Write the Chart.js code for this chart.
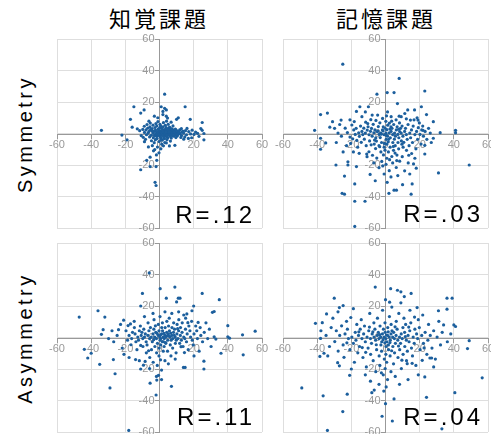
<!DOCTYPE html>
<html>
<head>
<meta charset="utf-8">
<script src="https://cdn.jsdelivr.net/npm/chart.js@4/dist/chart.umd.min.js"></script>
<style>
  html, body { margin:0; padding:0; background:#fff; width:491px; height:434px; overflow:hidden; }
  canvas { position:absolute; }
  .title { position:absolute; top:4px; width:140px; text-align:center; font: 22px "Noto Sans CJK JP", sans-serif; letter-spacing:3px; line-height:26px; color:#000; }
  .row { position:absolute; width:160px; text-align:center; font: 20px "Liberation Sans", Arial, sans-serif; letter-spacing:3.5px; line-height:20px; color:#000; transform: translate(-50%,-50%) rotate(-90deg); }
  .r { position:absolute; font: 24px "Liberation Sans", Arial, sans-serif; letter-spacing:3px; line-height:24px; color:#000; white-space:nowrap; }
</style>
</head>
<body>
<div class="title" style="left:89px">知覚課題</div>
<div class="title" style="left:316px">記憶課題</div>
<div class="row" style="left:25px; top:134px">Symmetry</div>
<div class="row" style="left:25px; top:338px">Asymmetry</div>

<canvas id="p1" width="233" height="217" style="left:43px; top:25px"></canvas>
<canvas id="p2" width="233" height="217" style="left:269px; top:25px"></canvas>
<canvas id="p3" width="233" height="217" style="left:43px; top:229px"></canvas>
<canvas id="p4" width="233" height="217" style="left:269px; top:229px"></canvas>

<div class="r" style="right:236px; top:203px">R=.12</div>
<div class="r" style="right:8px; top:202px">R=.03</div>
<div class="r" style="right:236px; top:405px">R=.11</div>
<div class="r" style="right:8px; top:405px">R=.04</div>

<script>
const axisTicks = [-60, -40, -20, 0, 20, 40, 60];

// 知覚課題 / Symmetry
const perceptSym = [
  [-34,2],[-22,-1],[-19,-4],[-17,9],[-15,17],[-11,13],[-9,15],[-16,4],[-13,3],[3,25],
  [1,17],[3,16],[4,15],[2,14],[15,17],[11,10],[10,9],[18,9],[25,7],[25,2],[26,0],[26,-4],
  [-11,-23],[-5.5,-21],[-2,-21],[-2.6,-31],[-2,-33],[-7.5,-17],[-5.5,-15],[-1.6,-17],[4,-6],[9,-7.5],
  [-3.5,-11],[-6.5,-8.5],[-3,11],[2,12],[-1,10],[4,11],
  [-11.6,1.8],[-10.7,-1.3],[-9.8,2.6],[-9.5,-2.4],[-8.8,0.7],[-8.9,4.6],[-7.6,-0.8],[-7.9,2.3],[-8.2,-3.7],
  [-6.7,0.3],[-6.9,3.4],[-7.3,5.7],[-5.8,-2.2],[-6.1,1.4],[-5.6,4.2],[-4.8,-1.1],[-5.2,2.5],[-4.7,-4.6],
  [-5.4,6.6],[-3.9,0.4],[-4.3,3.1],[-3.6,-2.7],[-3.8,5.3],[-2.7,-0.7],[-3.2,1.3],[-2.6,3.8],[-3.1,-5.8],
  [-1.8,0.2],[-2.3,2.2],[-1.7,-1.8],[-2.1,6.3],[-2.4,-3.9],[-0.8,-1.2],[-1.2,0.9],[-0.7,2.8],[-1.4,-3.2],
  [-0.9,7.6],[0.2,-0.3],[-0.3,1.9],[0.4,-2.3],[0.1,3.7],[-0.2,-5.1],[0.3,5.8],[1.2,-0.9],[0.8,1.3],
  [1.4,3.2],[1.1,-2.8],[0.7,4.7],[1.3,-6.8],[2.2,0.3],[1.8,2.4],[2.4,-1.6],[2.1,4.3],[1.7,-4.2],[2.3,6.9],
  [3.2,-1.2],[2.8,1.1],[3.3,2.7],[2.9,-3.3],[3.4,5.2],[3.1,-5.7],[4.2,0.2],[3.8,2.2],[4.3,-2.1],[3.9,3.8],
  [4.4,-3.9],[4.1,7.8],[5.2,-0.8],[4.8,1.3],[5.3,3.3],[4.9,-2.7],[5.1,5.8],[6.2,-0.3],[5.8,2.1],[6.3,-1.8],
  [5.9,4.1],[6.4,-4.8],[7.2,-0.6],[6.8,1.2],[7.3,2.9],[6.9,-2.9],[8.1,0.4],[7.8,2.3],[8.3,-1.7],[7.9,4.8],
  [9.2,-0.9],[8.8,1.4],[9.3,2.8],[10.1,0.2],[9.8,2.2],[10.4,-1.6],[11.2,1.1],[10.8,-0.7],[12.1,-0.2],
  [11.8,2.3],[13.2,0.8],[12.9,-1.3],[14.1,0.3],[15.2,1.8],[15.8,-0.8],[17.1,1.2],[18.2,-0.3],[19.1,2.1],
  [20.2,-0.6],[21.1,0.9],[22.3,0.1],[14.2,-3.6],[16.1,3.2],[18.8,-2.7],[-1.2,-8.6],[0.8,-9.7],[-2.8,-10.2],
  [-0.3,-12.3],[-1.8,-13.6],[2.3,-7.8],[-4.2,-7.7],[5.8,-7.9],[4.7,9.8],[6.8,7.2],[-6.2,7.8],[-8.8,-5.2],
  [0.6,0.7],[1.6,-0.4],[2.6,1.6],[3.6,-1.4],[4.6,0.6],[5.6,-0.3],[6.6,1.7],[-0.6,1.4],[-1.4,-0.6],
  [-2.6,1.7],[3.1,0.1],[5.2,0.3],[7.1,0.2],[1.1,0.3],[-1.1,0.1],[9.1,0.3],[11.1,0.2],[2.1,1.2],[4.1,1.1],
  [6.1,0.9],[8.2,1.1],[3.3,-0.6],[5.1,2.1],[12.8,3.1],[14.8,-2.2],[16.9,-3.1],[24.2,3.1],[23.1,-1.8],
  [0.5,-1.2],[1.9,-1.1],[3.7,0.9],[5.7,1.1],[7.6,-1.2],[8.7,0.8],[10.6,1.3],[-0.4,-0.6],[2.7,-2.3],
  [4.5,-1.2],[6.5,3.1],[-2.9,-1.4],[-4.4,1.7],[1.3,2.1],[9.6,-2.6],[11.6,0.7],[13.6,1.6],[12.5,-2.5],
  [-1.6,4.8],[0.9,-4.1]
];

// 記憶課題 / Symmetry
const memorySym = [
  [-25,44],[8,35],[23,27],[1,26],[5,26],[-5,25],[7,19],[21,17],[13,15],[17,15],[-15,17],[-10,17],
  [-17,14],[-38,12],[-34,13],[-41.5,2],[-38,-3],[-31,7.5],[-26,8.5],[-32.6,4],[-38,-10],[-35,-6],
  [-29,-20],[-24,-27],[-25.4,-38],[-24,-38.5],[-18,-32],[-18,-43],[-12,-43],[-18,-59],[-22,-20],
  [-22,-18],[-17,-21],[-11,-13],[-9,-26],[-6,-30],[1,-31],[2,-38],[5,-36],[6.4,-36],[15,-38.5],
  [15.6,-32],[10,-32.5],[18,-22],[23,-13],[23,-7.5],[28,-3],[32,0.5],[41,2],[41,0.5],[49,-20],
  [31,-25],[28,7.5],[24,12],[19,8.5],[14.6,8.5],[18.5,10],[22,2],[8,11],
  [-23.6,3.4],[-22.3,0.6],[-20.8,-2.3],[-19.7,5.4],[-20.4,-6.3],[-18.6,2.3],[-17.7,-0.6],[-18.3,7.6],
  [-16.8,-4.4],[-17.2,3.3],[-15.7,0.4],[-16.3,-8.7],[-14.6,4.7],[-15.3,-1.8],[-13.8,1.3],[-14.2,-5.6],
  [-12.7,3.4],[-13.3,-0.7],[-11.6,7.2],[-12.4,-3.6],[-11.8,0.3],[-10.7,2.2],[-11.3,-7.7],[-9.6,-0.8],
  [-10.2,4.3],[-9.7,-11.6],[-8.8,1.4],[-9.3,-4.7],[-8.6,8.8],[-7.8,-1.7],[-8.2,3.2],[-7.6,-13.8],
  [-6.8,0.4],[-7.2,5.8],[-6.6,-6.7],[-5.7,-2.8],[-6.2,2.3],[-5.8,-9.6],[-4.8,1.2],[-5.3,-4.8],
  [-4.6,11.7],[-5.1,-15.6],[-3.7,-0.6],[-4.2,4.4],[-3.8,-7.7],[-2.8,0.3],[-3.3,6.8],[-2.7,-11.7],
  [-3.1,-2.6],[-1.8,2.3],[-2.3,-5.7],[-1.7,9.6],[-2.2,-17.7],[-0.7,-0.8],[-1.3,4.3],[-0.8,-8.7],
  [-1.2,-13.6],[0.3,0.2],[-0.2,3.3],[0.4,-3.7],[0.2,7.7],[-0.3,-10.6],[0.3,-19.6],[1.2,-1.7],[0.8,2.4],
  [1.3,5.3],[0.7,-6.8],[1.2,13.7],[0.8,-15.7],[2.2,0.4],[1.8,-3.7],[2.3,6.6],[1.7,-11.7],[2.2,-23.6],
  [3.3,1.3],[2.8,-2.7],[3.2,4.3],[2.7,-8.7],[3.3,10.7],[4.2,-0.7],[3.8,3.3],[4.3,-5.7],[3.7,-14.6],
  [4.2,-18.7],[5.3,0.3],[4.8,5.7],[5.2,-3.6],[4.7,-10.7],[6.3,2.3],[5.8,-1.7],[6.2,8.7],[5.7,-7.7],
  [6.3,-21.6],[7.2,-0.6],[6.8,4.3],[7.3,-5.7],[6.7,-13.7],[8.3,1.2],[7.8,-2.7],[8.2,6.7],[7.7,-9.7],
  [8.3,-17.6],[9.2,0.3],[8.8,3.3],[9.3,-4.7],[10.2,-1.7],[9.7,4.7],[10.3,-8.7],[9.8,-14.7],[11.2,1.3],
  [10.7,-5.6],[11.3,12.7],[12.2,-0.7],[11.7,3.3],[12.3,-10.7],[13.2,5.7],[12.7,-3.7],[13.3,-18.7],
  [14.2,0.3],[13.8,-7.7],[15.2,2.3],[14.7,-2.7],[15.3,-12.7],[16.2,4.7],[15.8,-5.7],[17.2,-0.7],
  [16.7,8.7],[18.2,1.3],[17.8,-9.7],[19.2,3.7],[18.8,-3.7],[20.2,-0.6],[19.8,6.7],[21.2,2.3],[20.8,-6.7],
  [22.2,-1.7],[21.8,4.7],[23.2,1.3],[24.2,-3.7],[25.2,3.3],[26.2,0.3],[26.8,-5.7],[-22.8,-7.7],
  [-20.8,8.7],[-18.8,-11.7],[-13.8,10.7],[-10.8,-14.7],[-6.8,-18.7],[-3.8,-21.7],[-0.8,-25.7],
  [3.2,-27.6],[7.2,-26.7],[11.2,-23.7],[14.2,-25.7],[17.2,-15.7],[-25.8,-1.7],[-27.8,0.3],[-29.8,3.3],
  [-26.8,5.7],[-24.8,-11.7],[-28.8,-5.7],[12.2,9.3],[9.2,10.7],[-7.8,11.7],[-11.8,13.7],
  [-1.4,1.6],[0.6,-1.4],[2.6,2.8],[-2.4,-0.4],[1.6,-5.3],[-3.4,-8.4],[4.6,-8.2],[-0.6,-6.3],[3.6,7.8],
  [-4.4,1.6],[5.6,-12.4],[-6.4,-4.2],[7.6,2.7],[-8.4,-7.2],[9.6,-6.8],[-10.4,6.3],[2.4,-16.6],
  [-1.6,-20.6],[0.6,11.2],[-5.6,8.3],[13.6,-13.8],[-15.4,-12.6],[16.4,-19.3],[-19.2,-3.4],[6.6,-17.2]
];

// 知覚課題 / Asymmetry
const perceptAsym = [
  [-47,13],[-36,17],[-32,13],[-33,5],[-34,2],[-44,-7.5],[-42,-13],[-40,-10],[-35,-17],[-27,-14],
  [-26,-23],[-29,-32],[-18,-59],[-2,-36.5],[7,-31],[-10,28],[-6,41],[0.4,31],[9,32],[4,25],[10,22.6],
  [11,25],[12,25],[25,28],[35,24],[31,16],[32,16.5],[40,7.5],[40,0.4],[41,-0.4],[48.6,1.7],[56,4],
  [49,-11],[36,-10],[33,-1],[32,0.4],[26,-15],[26,-20],[15,-19],[14,-19],[-5.5,-29],[-1.6,-27],
  [-0.6,-24],[-9.4,-17.6],[-11,-20],[-14,-14],[-21,11],[-17,8.6],[-11,20],[-24,5],[-11,-5],[20,20],
  [19,17],[16,15],
  [-19.6,4.3],[-18.7,-1.7],[-17.8,1.3],[-16.7,-4.6],[-15.8,3.3],[-16.3,-0.7],[-14.7,6.3],[-13.8,-2.7],
  [-14.3,2.3],[-12.7,0.3],[-13.2,-7.7],[-11.8,4.3],[-12.3,-1.7],[-10.7,1.3],[-11.2,7.3],[-9.8,-0.7],
  [-10.3,3.3],[-9.7,-5.7],[-8.8,0.3],[-9.2,5.3],[-7.8,-2.7],[-8.3,2.3],[-7.7,-9.7],[-6.8,1.3],[-7.3,-4.7],
  [-6.7,9.3],[-5.8,-0.7],[-6.2,4.3],[-5.7,-12.7],[-4.8,0.3],[-5.3,6.3],[-4.7,-7.7],[-3.8,2.3],[-4.2,-2.7],
  [-3.7,-15.7],[-2.8,0.3],[-3.3,5.3],[-2.7,-5.7],[-3.2,11.3],[-1.8,-0.7],[-2.2,3.3],[-1.7,-9.7],[-0.8,1.3],
  [-1.2,-3.7],[-0.7,8.3],[-1.3,-17.7],[0.2,0.3],[-0.3,4.3],[0.3,-1.7],[-0.2,-6.7],[0.3,13.3],[-0.3,-11.7],
  [1.2,2.3],[0.8,-0.7],[1.3,6.3],[0.7,-4.7],[1.2,-20.7],[2.2,0.3],[1.8,4.3],[2.3,-2.7],[1.7,9.3],
  [2.2,-8.7],[3.2,1.3],[2.8,-0.7],[3.3,6.3],[2.7,-5.7],[3.2,-14.7],[4.2,3.3],[3.8,0.3],[4.3,10.3],
  [3.7,-3.7],[5.2,2.3],[4.8,-1.7],[5.3,7.3],[4.7,-8.7],[6.2,0.3],[5.8,4.3],[6.3,-4.7],[5.7,12.3],
  [7.2,1.3],[6.8,-1.7],[7.3,6.3],[6.7,-11.7],[8.2,3.3],[7.8,-0.7],[8.3,9.3],[7.7,-6.7],[9.2,0.3],
  [8.8,5.3],[9.3,-3.7],[10.2,2.3],[9.8,-1.7],[10.3,8.3],[9.7,-9.7],[11.2,4.3],[10.8,-0.7],[11.3,11.3],
  [12.2,1.3],[11.8,-3.7],[12.3,6.3],[13.2,3.3],[12.8,-1.7],[13.3,9.3],[14.2,0.3],[13.8,-5.7],[15.2,5.3],
  [14.8,-0.7],[15.3,12.3],[16.2,2.3],[15.8,-2.7],[17.2,7.3],[16.8,-7.7],[18.2,0.3],[17.8,4.3],[19.2,-1.7],
  [18.8,10.3],[20.2,2.3],[19.8,-4.7],[21.2,7.3],[22.2,-0.7],[21.8,4.3],[23.2,-8.7],[24.2,1.3],[23.8,6.3],
  [25.2,-2.7],[26.2,3.3],[27.2,9.3],[28.2,-0.7],[29.2,5.3],[30.2,-5.7],[-21.8,-6.7],[-22.8,8.3],
  [-24.8,1.3],[-26.8,-2.7],[-27.8,4.3],[-29.8,-0.7],[-20.8,-10.7],[-17.8,-12.7],[-14.8,10.3],
  [-8.8,13.3],[-3.8,15.3],[3.2,16.3],[7.2,15.3],[11.2,16.3],[14.2,14.3],[-1.8,-24.7],[1.2,-26.7],
  [5.2,-16.7],[-5.8,-19.7],[9.2,-13.7],[20.2,-11.7],[-11.8,-14.7],
  [0.6,1.6],[2.6,2.6],[4.6,1.2],[6.6,2.8],[8.6,1.4],[-1.4,2.6],[-3.4,-1.4],[1.6,-2.6],[3.6,-3.2],
  [5.6,0.8],[-2.4,7.4],[10.6,5.6],[12.6,-5.8],[16.6,9.4],[-6.4,-8.4],[22.6,9.6],[-18.4,7.6],[0.6,-14.2],
  [-8.4,-15.2],[14.6,-9.6]
];

// 記憶課題 / Asymmetry
const memoryAsym = [
  [-49,-32],[-36.5,-37],[-34,-59],[-25,-47],[-22.4,-36],[-2,-50],[4,-53],[0,-42],[-8,-35],[-1,-34],
  [5,-39],[24,-38],[33,-58],[40.6,-35],[56.6,-25.6],[48,-7],[49,-2],[41,7],[40,8],[39,25],[36,25],
  [36,18],[34,8],[31,17],[-30,25],[-27,19],[-41,9],[-37,9.4],[-34.5,15],[-38,-0.6],[-38.4,-12],
  [-36,-10],[-28,-16],[-27,-18],[-21,-24],[-20,-20],[-6,32],[3,31],[7,30],[9,29],[15,28],[11,26],
  [0,24],[9,22],[18.5,19],[17,13],[23,-25],[26,-13],[27,-13],[21.5,-14.5],[12.7,-16.6],
  [-29.7,-2.6],[-28.8,4.3],[-27.7,-8.6],[-26.8,1.3],[-25.7,7.4],[-24.8,-4.7],[-23.7,2.3],[-24.3,-12.6],
  [-22.8,10.3],[-21.7,-0.7],[-22.3,5.3],[-20.8,-7.7],[-19.7,0.3],[-20.3,12.7],[-18.8,-3.7],[-17.7,3.3],
  [-18.2,-15.7],[-16.8,8.3],[-17.3,-1.7],[-15.8,1.3],[-16.2,-9.7],[-14.8,5.3],[-15.2,-5.7],[-13.8,-0.7],
  [-14.2,11.3],[-12.8,2.3],[-13.2,-12.7],[-11.8,-2.7],[-12.3,7.3],[-10.8,0.3],[-11.2,-18.7],[-9.8,4.3],
  [-10.2,-6.7],[-8.8,-0.7],[-9.2,15.3],[-8.7,-10.7],[-7.8,2.3],[-8.2,-3.7],[-6.8,9.3],[-7.2,-14.7],
  [-6.7,0.3],[-5.8,-1.7],[-6.2,5.3],[-5.7,-21.7],[-4.8,1.3],[-5.2,-7.7],[-4.7,12.3],[-3.8,-0.7],
  [-4.2,3.3],[-3.7,-11.7],[-2.8,0.3],[-3.2,7.3],[-2.7,-4.7],[-3.3,-17.7],[-1.8,2.3],[-2.2,-2.7],
  [-1.7,17.3],[-2.3,-8.7],[-0.8,0.3],[-1.2,5.3],[-0.7,-13.7],[-1.3,-23.7],[0.2,-0.7],[-0.2,3.3],
  [0.3,-5.7],[-0.3,9.3],[0.2,-10.7],[-0.2,-19.7],[1.2,1.3],[0.8,-2.7],[1.3,6.3],[0.7,-15.7],[1.2,-26.7],
  [2.2,0.3],[1.8,-7.7],[2.3,13.3],[1.7,-4.7],[3.2,2.3],[2.8,-1.7],[3.3,8.3],[2.7,-11.7],[3.2,-21.7],
  [4.2,0.3],[3.8,4.3],[4.3,-5.7],[3.7,19.3],[5.2,-0.7],[4.8,3.3],[5.3,-9.7],[4.7,-16.7],[6.2,1.3],
  [5.8,-3.7],[6.3,10.3],[5.7,-24.7],[7.2,-1.7],[6.8,5.3],[7.3,-12.7],[8.2,0.3],[7.8,15.3],[8.3,-7.7],
  [9.2,2.3],[8.8,-3.7],[9.3,-19.7],[10.2,6.3],[9.8,-0.7],[10.3,-10.7],[11.2,3.3],[10.8,12.3],[11.3,-5.7],
  [12.2,-1.7],[11.8,8.3],[12.3,-14.7],[13.2,1.3],[12.8,-8.7],[14.2,4.3],[13.8,-2.7],[14.3,17.3],
  [15.2,-6.7],[14.8,9.3],[16.2,0.3],[15.8,-11.7],[17.2,5.3],[16.8,-3.7],[18.2,2.3],[17.8,-17.7],
  [19.2,11.3],[18.8,-0.7],[20.2,-7.7],[19.8,6.3],[21.2,1.3],[22.2,-3.7],[21.8,14.3],[23.2,3.3],
  [24.2,-10.7],[25.2,8.3],[24.8,-1.7],[26.2,1.3],[27.2,-6.7],[28.2,4.3],[29.2,-13.7],[30.2,0.3],
  [31.2,10.3],[32.2,-4.7],[33.2,3.3],[-31.8,6.3],[-32.8,-5.7],[-34.8,1.3],[-30.8,12.3],[-33.8,-11.7],
  [-27.8,16.3],[-24.8,20.3],[-18.8,18.3],[-11.8,-23.7],[-8.8,-27.7],[-3.8,-29.7],[8.2,-29.7],
  [13.2,-26.7],[19.2,-23.7],[28.2,-18.7],[36.2,-2.7],[38.2,2.3],[-37.8,4.3],
  [0.6,1.6],[-1.4,-1.4],[2.6,-3.2],[-3.4,1.8],[1.6,3.6],[-0.4,-3.4],[3.6,-8.4],[-5.4,-4.6],[5.6,6.8],
  [-7.4,3.6],[7.6,-5.4],[-9.4,6.6],[9.6,-14.4],[-11.6,-9.4],[11.6,0.6],[-13.6,-6.4],[13.6,6.6],
  [-15.6,3.6],[15.6,-16.4],[-2.4,-22.4],[2.4,22.4],[-22.6,-3.4],[22.6,-6.6],[0.4,-31.4],[-6.6,-33.4]
];

function axisOpts(){
  return {
    type: 'linear', position: 'center', min: axisTicks[0], max: axisTicks[axisTicks.length-1],
    afterBuildTicks: s => { s.ticks = axisTicks.map(v => ({ value: v })); },
    grid: { color: '#dedede', lineWidth: 1, tickLength: 4, tickColor: '#999' },
    border: { color: '#999', width: 1 },
    ticks: { color: '#999', font: { size: 11, family: '"Liberation Sans", Arial, sans-serif' },
             padding: 1, autoSkip: false, maxRotation: 0, minRotation: 0 }
  };
}

function buildPlot(id, points){
  const ctx = document.getElementById(id);
  if (!ctx) return;
  new Chart(ctx, {
    type: 'scatter',
    data: { datasets: [{ data: points.map(p => ({ x: p[0], y: p[1] })),
      pointRadius: 1.6, pointHoverRadius: 1.6, backgroundColor: '#1c5f9d', borderWidth: 0 }] },
    options: {
      responsive: false, animation: false, devicePixelRatio: 1,
      layout: { padding: 14 },
      plugins: { legend: { display: false }, tooltip: { enabled: false } },
      scales: { x: axisOpts(), y: axisOpts() }
    }
  });
}

buildPlot('p1', perceptSym);
buildPlot('p2', memorySym);
buildPlot('p3', perceptAsym);
buildPlot('p4', memoryAsym);
</script>
</body>
</html>
